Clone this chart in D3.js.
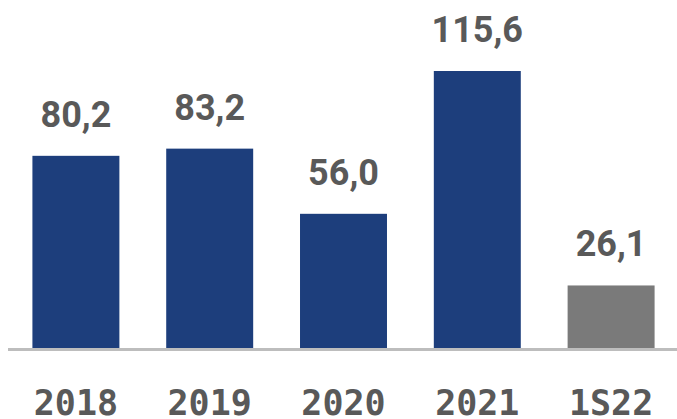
<!DOCTYPE html>
<html>
<head>
<meta charset="utf-8">
<script src="https://cdn.jsdelivr.net/npm/d3@7"></script>
<style>
  html, body { margin: 0; padding: 0; background: #fff; }
  svg { display: block; }
</style>
</head>
<body>
<div id="chart"></div>
<script>
var categories = ["2018", "2019", "2020", "2021", "1S22"];
var values = [80.2, 83.2, 56.0, 115.6, 26.1];
var valueLabels = ["80,2", "83,2", "56,0", "115,6", "26,1"];
var barColors = ["#1d3e7c", "#1d3e7c", "#1d3e7c", "#1d3e7c", "#7a7a7a"];

var width = 677,
    height = 419,
    baseline = 348; // y of bar bottoms

var svg = d3.select("#chart").append("svg")
    .attr("width", width)
    .attr("height", height);

var x = d3.scaleBand()
    .domain(categories)
    .range([9, 678])
    .paddingInner(0.35)
    .paddingOuter(0.175);

var y = d3.scaleLinear()
    .domain([0, 115.6])
    .range([baseline, 71]);

// bars
svg.selectAll("rect.bar")
    .data(values)
    .enter().append("rect")
    .attr("class", "bar")
    .attr("x", function(d, i) { return x(categories[i]); })
    .attr("y", function(d) { return y(d); })
    .attr("width", x.bandwidth())
    .attr("height", function(d) { return baseline - y(d); })
    .attr("fill", function(d, i) { return barColors[i]; });

// baseline
svg.append("line")
    .attr("x1", 8)
    .attr("x2", width)
    .attr("y1", baseline + 1.5)
    .attr("y2", baseline + 1.5)
    .attr("stroke", "#bdbdbd")
    .attr("stroke-width", 3);

// value labels
svg.selectAll("text.value")
    .data(values)
    .enter().append("text")
    .attr("class", "value")
    .attr("x", function(d, i) { return x(categories[i]) + x.bandwidth() / 2; })
    .attr("y", function(d) { return y(d) - 29; })
    .attr("text-anchor", "middle")
    .attr("font-family", "Roboto")
    .attr("font-weight", "bold")
    .attr("font-size", 36)
    .attr("fill", "#595959")
    .text(function(d, i) { return valueLabels[i]; });

// category labels
svg.selectAll("text.cat")
    .data(categories)
    .enter().append("text")
    .attr("class", "cat")
    .attr("x", function(d) { return x(d) + x.bandwidth() / 2; })
    .attr("y", 415)
    .attr("text-anchor", "middle")
    .attr("font-family", "DejaVu Sans Mono")
    .attr("font-weight", "bold")
    .attr("font-size", 35)
    .attr("fill", "#595959")
    .text(function(d) { return d; });
</script>
</body>
</html>
